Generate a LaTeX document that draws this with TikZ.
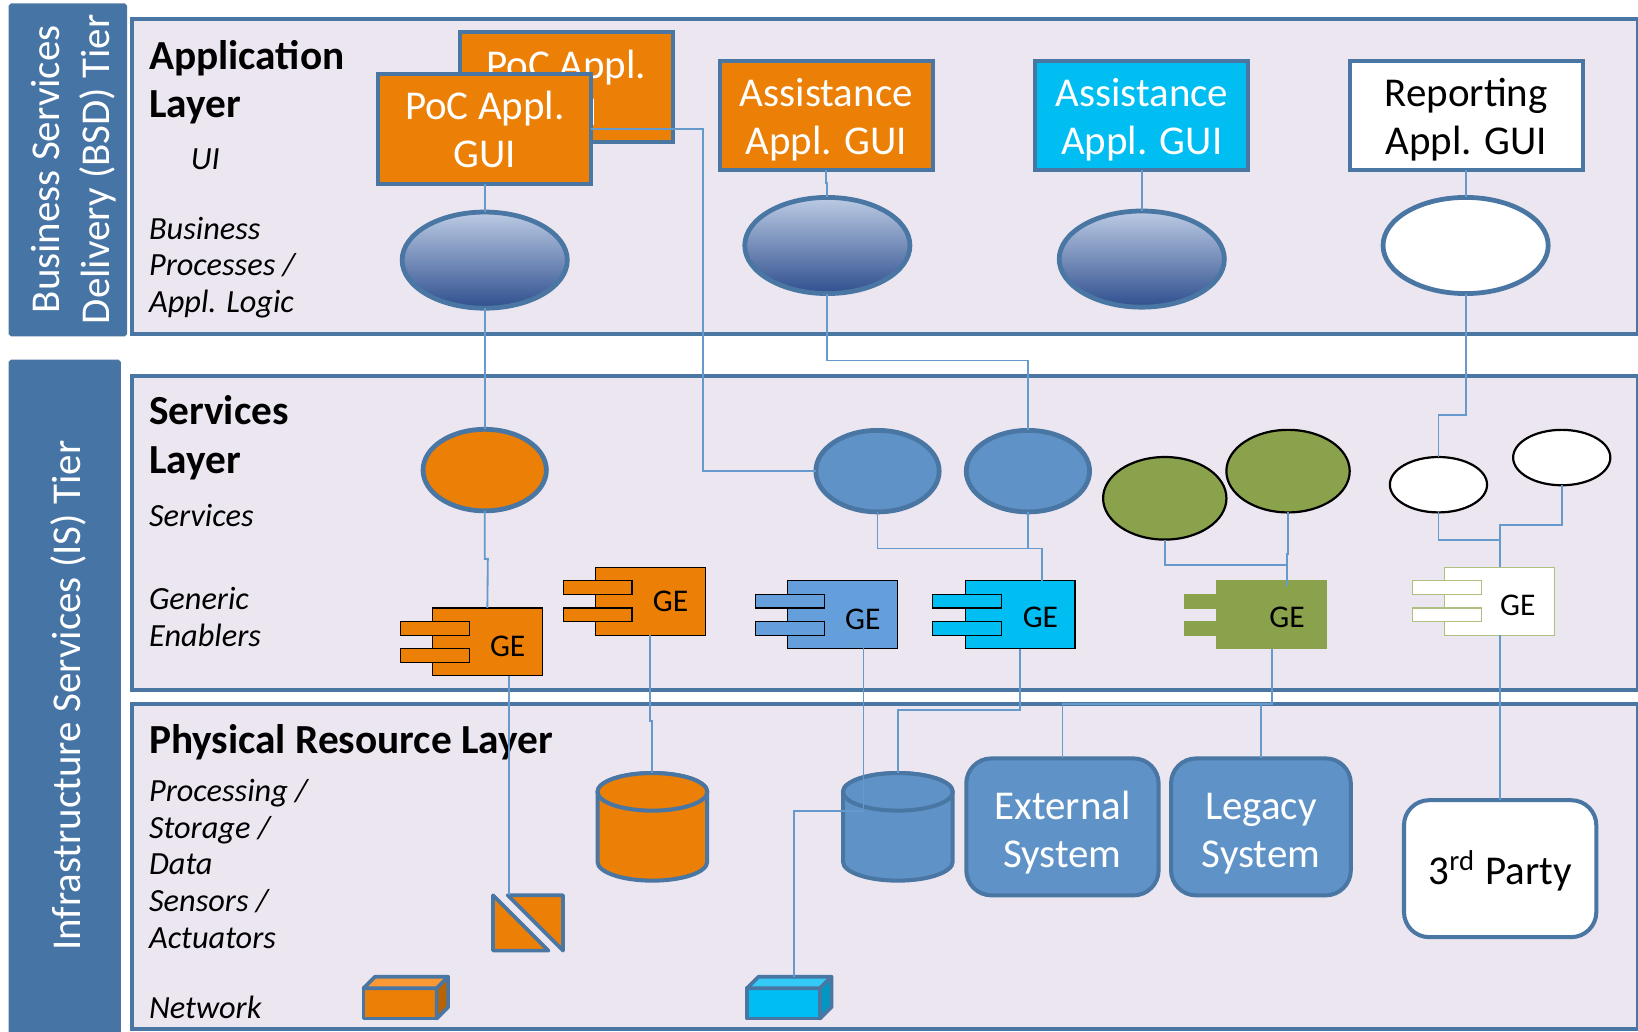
\documentclass[tikz,border=0pt]{standalone}
\usepackage{fontspec}
\setmainfont{Carlito}
\usetikzlibrary{shapes.geometric,calc}
\definecolor{rim}{HTML}{4A76A3}
\definecolor{layerbg}{HTML}{ECE6F0}
\definecolor{tierblue}{HTML}{4674A5}
\definecolor{linkblue}{HTML}{6699CC}
\definecolor{pocorange}{HTML}{EC7F05}
\definecolor{steelblue}{HTML}{5F93C8}
\definecolor{gesky}{HTML}{649FDC}
\definecolor{skyblue}{HTML}{00BEF2}
\definecolor{olive}{HTML}{8AA24B}
\definecolor{oliveline}{HTML}{AEC07F}
\definecolor{proctop}{HTML}{BCCBE4}
\definecolor{procbot}{HTML}{2F4F8E}
\tikzstyle{layer} = [rectangle, draw=rim, fill=layerbg, line width=1.1pt, anchor=north west, inner sep=0pt, outer sep=0pt]
\tikzstyle{tier} = [rectangle, fill=tierblue, draw=rim, rounded corners=.5pt, anchor=north west, inner sep=0pt, outer sep=0pt]
\tikzstyle{tiertext} = [rotate=90, text=white, align=center, font=\fontsize{11.15}{13.4}\selectfont]
\tikzstyle{title} = [anchor=west, align=left, inner sep=0pt, font=\fontsize{11.25}{13.1}\selectfont\bfseries]
\tikzstyle{note} = [anchor=west, align=left, inner sep=0pt, font=\fontsize{8.8}{10}\selectfont\itshape]
\tikzstyle{gui} = [rectangle, text height=25.25pt, text depth=4.25pt, draw=rim, line width=1.1pt, anchor=north west, align=center, minimum width=2.04cm, minimum height=1.05cm, inner sep=0pt, outer sep=0pt, text=white, font=\fontsize{11.15}{13}\selectfont]
\tikzstyle{proc} = [ellipse, draw=rim, line width=1.3pt, minimum width=1.58cm, minimum height=.92cm, inner sep=0pt, outer sep=0pt, top color=proctop, bottom color=procbot]
\tikzstyle{svc} = [ellipse, draw=rim, line width=1.3pt, minimum width=1.18cm, minimum height=.78cm, inner sep=0pt, outer sep=0pt, fill=steelblue]
\tikzstyle{blacksvc} = [ellipse, draw=black, line width=.6pt, inner sep=0pt, outer sep=0pt]
\tikzstyle{system} = [rectangle, rounded corners=.24cm, draw=rim, line width=1.1pt, fill=steelblue, align=center, text=white, inner sep=0pt, outer sep=0pt, anchor=north west, minimum height=1.31cm, font=\fontsize{11.15}{13}\selectfont]
\tikzstyle{link} = [draw=linkblue, line width=.5pt]
% component box with its two tabs: name, x, y, fill, line, offset of GE
\newcommand{\gebox}[6]{
	\node[rectangle, anchor=north west, draw=#5, fill=#4, line width=.3pt, outer sep=0pt, minimum width=1.05cm, minimum height=.65cm, inner sep=0pt] (#1) at (#2,#3) {};
	\node[rectangle, anchor=north west, draw=#5, fill=#4, line width=.3pt, outer sep=0pt, minimum width=.66cm, minimum height=.13cm, inner sep=0pt] (#1tabup) at ($(#1.north west)+(-31,13)$) {};
	\node[rectangle, anchor=north west, draw=#5, fill=#4, line width=.3pt, outer sep=0pt, minimum width=.66cm, minimum height=.13cm, inner sep=0pt] (#1tabdown) at ($(#1.north west)+(-31,39)$) {};
	\node[font=\fontsize{8.6}{10}\selectfont] (#1text) at ($(#1.north west)+#6$) {GE};
}
% drum: name, left x, top y, fill
\newcommand{\drum}[4]{
	\draw[draw=rim, line width=1.1pt, fill=#4] (#2,#3+18) -- (#2,#3+85) arc[start angle=180, end angle=0, x radius=52.5, y radius=18] -- (#2+105,#3+18) arc[start angle=0, end angle=-180, x radius=52.5, y radius=18] -- cycle;
	\draw[draw=rim, line width=1.1pt, fill=#4] (#2+52.5,#3+18) ellipse [x radius=52.5, y radius=18];
	\coordinate (#1) at (#2+52.5,#3);
}
% small box with a top and a side: x, y, fill, top fill, side fill
\newcommand{\netbox}[5]{
	\draw[draw=rim, line width=1pt, fill=#3, line join=round] (#1,#2) rectangle ++(70,-29);
	\draw[draw=rim, line width=1pt, fill=#4, line join=round] (#1,#2-29) -- ++(11,-11) -- ++(70,0) -- ++(-11,11) -- cycle;
	\draw[draw=rim, line width=1pt, fill=#5, line join=round] (#1+70,#2) -- ++(11,-11) -- ++(0,-29) -- ++(-11,11) -- cycle;
}
\begin{document}
\begin{tikzpicture}[x=0.01cm,y=-0.01cm]
	\useasboundingbox (0,0) rectangle (1568,987);
	\fill[white] (0,0) rectangle (1568,987);
	% tiers
	\node[tier, minimum width=1.12cm, minimum height=3.17cm] (bsd) at (9,4) {};
	\node[tier, minimum width=1.06cm, minimum height=6.5cm] (is) at (9,345) {};
	\node[tiertext] (bsdtext) at (70.5,162) {Business Services\\Delivery (BSD) Tier};
	\node[tiertext] (istext) at (65,666) {Infrastructure Services (IS) Tier};
	% layers
	\node[layer, minimum width=14.41cm, minimum height=3.02cm] (applayer) at (126,18) {};
	\node[layer, minimum width=14.41cm, minimum height=3cm] (svclayer) at (126,360) {};
	\node[layer, minimum width=14.41cm, minimum height=3.11cm] (phylayer) at (126,674) {};
	\node[title] (apptitle) at (142,79) {Application\\Layer};
	\node[title] (svctitle) at (142,419) {Services\\Layer};
	\node[title] (phytitle) at (142,711) {Physical Resource Layer};
	\node[note] (uinote) at (182,152) {UI};
	\node[note] (bpnote) at (142,256) {Business\\Processes /\\Appl. Logic};
	\node[note] (svcnote) at (142,493) {Services};
	\node[note] (genote) at (142,590.5) {Generic\\Enablers};
	\node[note] (prnote) at (142,827) {Processing /\\Storage /\\Data\\Sensors /\\Actuators};
	\node[note] (netnote) at (142,964) {Network};
	% application layer
	\node[gui, fill=pocorange] (pocback) at (440,31) {PoC Appl.\\GUI};
	\node[gui, fill=pocorange] (pocfront) at (362,71) {PoC Appl.\\GUI};
	\node[gui, fill=pocorange] (assistone) at (689,58) {Assistance\\Appl. GUI};
	\node[gui, fill=skyblue] (assisttwo) at (991,58) {Assistance\\Appl. GUI};
	\node[gui, fill=white, text=black, minimum width=2.23cm] (report) at (1292,58) {Reporting\\Appl. GUI};
	\node[proc] (procone) at (464,249) {};
	\node[proc] (proctwo) at (792,235) {};
	\node[proc] (procthree) at (1093,248) {};
	\node[proc, top color=white, bottom color=white] (procfour) at (1403,235) {};
	% services
	\node[svc, fill=pocorange] (svcone) at (464,450) {};
	\node[svc] (svctwo) at (840,451) {};
	\node[svc] (svcthree) at (984,451) {};
	\node[blacksvc, fill=olive, minimum width=1.18cm, minimum height=.79cm] (svcfour) at (1115,477) {};
	\node[blacksvc, fill=olive, minimum width=1.18cm, minimum height=.79cm] (svcfive) at (1233,451) {};
	\node[blacksvc, fill=white, minimum width=.93cm, minimum height=.53cm] (svcsix) at (1377,464) {};
	\node[blacksvc, fill=white, minimum width=.93cm, minimum height=.53cm] (svcseven) at (1495,438) {};
	% generic enablers
	\gebox{geone}{414}{582}{pocorange}{black}{(72,37)}
	\gebox{getwo}{570}{543}{pocorange}{black}{(72,33)}
	\gebox{gethree}{754}{556}{gesky}{black}{(72,37)}
	\gebox{gefour}{924}{556}{skyblue}{black}{(72,35)}
	\gebox{gefive}{1165}{556}{olive}{olive}{(67,35)}
	\gebox{gesix}{1383}{543}{white}{oliveline}{(70,36)}
	% physical resources
	\drum{storeone}{572}{740}{pocorange}
	\drum{storetwo}{807}{740}{steelblue}
	\node[system, text height=26.4pt, text depth=4.4pt, minimum width=1.84cm] (external) at (925,726) {External\\System};
	\node[system, text height=26.4pt, text depth=4.4pt, minimum width=1.72cm] (legacy) at (1121,726) {Legacy\\System};
	\node[system, minimum width=1.84cm, fill=white, text=black, text height=10.5pt] (third) at (1344,766) {3\textsuperscript{rd} Party};
	\draw[draw=rim, line width=1pt, fill=pocorange, line join=round] (472,857) -- (525,910) -- (472,910) -- cycle;
	\draw[draw=rim, line width=1pt, fill=pocorange, line join=round] (486,857) -- (539,857) -- (539,910) -- cycle;
	\coordinate (sensor) at (487,857);
	\netbox{348}{975}{pocorange}{orange!75!pocorange!80!white}{pocorange!78!black}
	\netbox{715}{975}{skyblue}{skyblue!80!white}{skyblue!80!black}
	\coordinate (nettwo) at (760,935);
	% connectors
	\draw[link] (pocfront.south) -- ++(0,14) -| (procone.north);
	\draw[link] (procone.south) -- (svcone.north);
	\draw[link] (svcone.south) -- ++(0,46) -- ++(3,0) -- (geone.north);
	\draw[link] (sensor) -- (sensor |- geone.south);
	\draw[link] (getwo.south) -- ++(0,82) -| (storeone);
	\draw[link] (pocfront.east) -- ++(107,0) |- (svctwo.west);
	\draw[link] (assistone.south) -- ++(0,12) -| (proctwo.north);
	\draw[link] (proctwo.south) -- ++(0,64) -| (svcthree.north);
	\draw[link] (assisttwo.south) -- ++(0,12) -| (procthree.north);
	\draw[link] (report.south) -- ++(0,12) -| (procfour.north);
	\draw[link] (procfour.south) -- ++(0,116) -| (svcsix.north);
	\draw[link] (svctwo.south) -- ++(0,35) -| ($(gefour.north)+(21,0)$);
	\draw[link] (svcthree.south) -- ++(0,35);
	\draw[link] (svcfour.south) -- ++(0,24) -| ($(gefive.north)+(14.5,4)$);
	\draw[link] (svcfive.south) -- ++(0,40) -- ++(-1,0) -- ++(0,30);
	\draw[link] (svcsix.south) -- ++(0,26) -| (gesix.north);
	\draw[link] (svcseven.south) -- ++(0,38) -| (gesix.north);
	\draw[link] (gesix.south) -- ++(0,78) -| (third.north);
	\draw[link] ($(gethree.south)+(20,-4)$) -- ++(0,159) -| (nettwo);
	\draw[link] (gefour.south) -- ++(0,59) -| (storetwo);
	\draw[link] (gefive.south) -- ++(0,53) -| (external.north);
	\draw[link] ($(gefive.south)+(0,53)$) -| (legacy.north);
\end{tikzpicture}
\end{document}
